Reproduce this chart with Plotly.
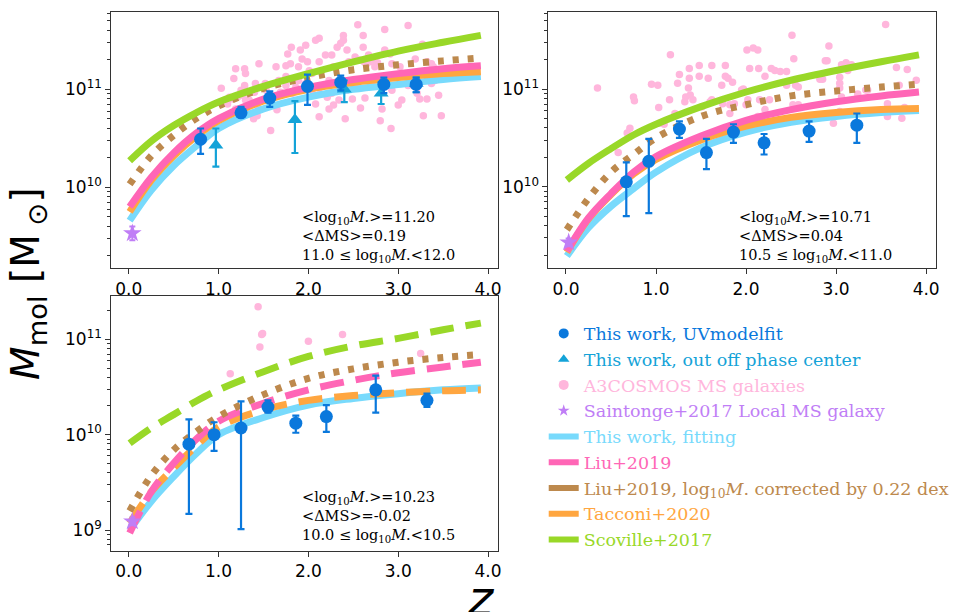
import plotly.graph_objects as go
import numpy as np

W, H = 956, 612

# ---------------- data ----------------
z_curve = [0.01, 0.25, 0.5, 0.75, 1.0, 1.5, 2.0, 2.5, 3.0, 3.5, 3.92]

# log10 Mmol for model curves, per panel
fit_p1 = [9.66, 9.97, 10.22, 10.42, 10.60, 10.80, 10.92, 11.00, 11.05, 11.10, 11.13]
liu_p1 = [9.80, 10.10, 10.35, 10.55, 10.70, 10.90, 11.02, 11.10, 11.16, 11.21, 11.24]
liuc_p1 = [10.03, 10.32, 10.53, 10.70, 10.83, 11.01, 11.12, 11.20, 11.25, 11.29, 11.32]
tac_p1 = [9.75, 10.07, 10.32, 10.52, 10.68, 10.88, 11.00, 11.07, 11.12, 11.16, 11.18]
sco_p1 = [10.27, 10.47, 10.63, 10.76, 10.87, 11.03, 11.16, 11.28, 11.39, 11.48, 11.55]

fit_p2 = [9.29, 9.58, 9.80, 9.98, 10.15, 10.40, 10.56, 10.66, 10.72, 10.76, 10.78]
liu_p2 = [9.34, 9.68, 9.93, 10.15, 10.31, 10.52, 10.68, 10.79, 10.87, 10.93, 10.97]
liuc_p2 = [9.56, 9.88, 10.15, 10.33, 10.50, 10.72, 10.84, 10.93, 10.98, 11.02, 11.05]
tac_p2 = [9.33, 9.67, 9.92, 10.13, 10.28, 10.48, 10.62, 10.71, 10.76, 10.79, 10.80]
sco_p2 = [10.07, 10.24, 10.39, 10.53, 10.64, 10.82, 10.97, 11.09, 11.19, 11.28, 11.35]

fit_p3 = [9.00, 9.30, 9.56, 9.80, 10.00, 10.18, 10.31, 10.38, 10.43, 10.47, 10.49]
liu_p3 = [8.97, 9.40, 9.70, 9.95, 10.14, 10.33, 10.47, 10.57, 10.65, 10.71, 10.76]
liuc_p3 = [9.20, 9.57, 9.84, 10.03, 10.19, 10.42, 10.59, 10.69, 10.76, 10.81, 10.84]
tac_p3 = [9.07, 9.40, 9.65, 9.88, 10.08, 10.26, 10.36, 10.41, 10.44, 10.46, 10.47]
sco_p3 = [9.91, 10.07, 10.21, 10.35, 10.47, 10.66, 10.82, 10.93, 11.01, 11.10, 11.17]

# This work, UVmodelfit (z, log M, upper, lower)
uv_z_p1 = [0.80, 1.25, 1.57, 1.99, 2.36, 2.84, 3.20]
uv_m_p1 = [10.49, 10.76, 10.91, 11.03, 11.07, 11.05, 11.05]
uv_hi_p1 = [10.60, 10.82, 10.98, 11.15, 11.14, 11.12, 11.12]
uv_lo_p1 = [10.34, 10.72, 10.82, 10.84, 10.99, 10.96, 10.97]

uv_z_p2 = [0.67, 0.92, 1.26, 1.56, 1.86, 2.20, 2.70, 3.23]
uv_m_p2 = [10.05, 10.26, 10.59, 10.35, 10.56, 10.45, 10.57, 10.63]
uv_hi_p2 = [10.25, 10.49, 10.67, 10.49, 10.64, 10.54, 10.67, 10.75]
uv_lo_p2 = [9.70, 9.73, 10.50, 10.18, 10.45, 10.33, 10.46, 10.45]

uv_z_p3 = [0.67, 0.95, 1.25, 1.55, 1.86, 2.20, 2.75, 3.32]
uv_m_p3 = [9.90, 10.00, 10.07, 10.29, 10.12, 10.19, 10.47, 10.36]
uv_hi_p3 = [10.16, 10.13, 10.35, 10.36, 10.20, 10.31, 10.62, 10.43]
uv_lo_p3 = [9.17, 9.83, 9.01, 10.23, 10.02, 10.03, 10.23, 10.29]

# This work, out off phase center (panel 1 only)
off_z = [0.97, 1.85, 2.40, 2.81, 3.20]
off_m = [10.43, 10.69, 11.00, 10.96, 11.06]
off_hi = [10.60, 10.88, 11.09, 11.07, 11.12]
off_lo = [10.21, 10.35, 10.87, 10.85, 10.97]

# Saintonge+2017 local MS galaxy
st_z = [0.04, 0.03, 0.04]
st_m = [9.53, 9.43, 9.09]
st_hi = [9.60, 9.47, 9.13]
st_lo = [9.46, 9.39, 9.05]

# A3COSMOS MS galaxies
a3_z_p1 = [2.55, 3.11, 2.85, 2.61, 2.39, 2.39, 2.36, 2.12, 2.08, 1.97, 1.91, 1.81, 1.77, 1.80, 1.75,
           1.89, 1.99, 1.93, 2.01, 2.04, 2.12, 2.19, 2.26, 2.28, 2.32, 2.43, 2.45, 2.52, 2.57, 2.61,
           2.67, 2.65, 2.71, 2.77, 2.74, 2.85, 2.91, 2.93, 3.02, 2.97, 2.93, 3.19, 3.27, 3.32, 3.39,
           3.41, 3.37, 3.24, 3.21, 3.24, 3.28, 3.48, 3.45, 3.11, 3.04, 3.00, 2.92, 2.80, 2.82, 2.63,
           2.58, 2.41, 2.49, 2.43, 2.28, 2.23, 2.26, 2.12, 2.08, 2.04, 1.97, 1.89, 1.86, 1.82, 1.75,
           1.75, 1.67, 1.69, 1.65, 1.58, 1.53, 1.52, 1.45, 1.41, 1.40, 1.39, 1.43, 1.45, 1.34, 1.32,
           1.30, 1.29, 1.25, 1.21, 1.27, 1.30, 1.29, 1.19, 1.17, 1.16, 1.12, 1.10, 1.19, 1.03, 1.64,
           2.21, 2.34, 2.12, 2.23, 2.62, 3.37, 3.32, 2.71, 2.52]
a3_m_p1 = [11.66, 11.65, 11.61, 11.55, 11.55, 11.50, 11.47, 11.52, 11.50, 11.45, 11.40, 11.43, 11.36, 11.26, 11.24,
           11.23, 11.28, 11.31, 11.19, 11.16, 11.28, 11.35, 11.35, 11.23, 11.43, 11.40, 11.28, 11.33, 11.30, 11.43,
           11.35, 11.26, 11.28, 11.27, 11.23, 11.40, 11.36, 11.26, 11.23, 11.13, 10.99, 11.31, 11.46, 11.28, 11.23,
           11.09, 11.06, 11.06, 10.96, 10.90, 10.73, 10.73, 10.94, 11.04, 10.89, 10.84, 10.60, 10.68, 10.80, 10.91,
           10.81, 10.70, 10.90, 10.99, 10.84, 10.80, 10.96, 10.72, 10.85, 10.99, 11.06, 11.09, 11.02, 10.96, 11.04,
           11.13, 11.09, 10.97, 10.79, 10.58, 10.99, 11.06, 11.26, 11.06, 10.97, 10.70, 10.73, 10.80, 10.89, 10.75,
           10.89, 11.04, 10.99, 10.92, 10.94, 11.16, 11.21, 11.21, 11.11, 10.90, 10.92, 10.85, 10.80, 11.01, 11.23,
           10.92, 10.89, 11.01, 11.09, 11.28, 11.26, 10.90, 11.04, 11.04]

a3_z_p2 = [3.55, 2.51, 1.16, 2.92, 2.01, 2.08, 2.13, 2.53, 2.90, 3.06, 3.11, 3.17, 3.07, 3.13, 3.67,
           3.79, 0.35, 0.95, 1.02, 1.26, 1.24, 1.37, 1.37, 1.48, 1.48, 1.58, 1.62, 1.77, 1.77, 1.80,
           1.73, 1.85, 2.04, 2.14, 2.21, 2.28, 2.32, 2.38, 2.45, 2.45, 2.55, 2.58, 2.82, 2.85, 2.88,
           3.04, 3.04, 3.04, 3.33, 3.24, 3.89, 3.70, 3.57, 3.76, 3.57, 3.73, 3.04, 2.87, 2.97, 1.36,
           1.33, 1.38, 1.41, 1.32, 1.15, 1.03, 1.51, 1.60, 1.62, 1.74, 1.82, 1.87, 2.00, 2.02, 2.15,
           2.21, 2.26, 2.13, 1.99, 1.95, 1.97, 1.82, 1.21, 1.04, 1.09, 0.71, 0.68, 0.75, 0.76, 0.58,
           2.52, 2.58, 3.06, 3.35]
a3_m_p2 = [11.66, 11.55, 11.35, 11.44, 11.40, 11.42, 11.40, 11.31, 11.29, 11.25, 11.27, 11.25, 11.23, 11.19, 11.22,
           11.20, 11.01, 11.05, 11.04, 11.15, 11.06, 11.21, 11.11, 11.24, 11.13, 11.11, 11.24, 11.24, 11.13, 11.11,
           11.04, 11.07, 11.21, 11.21, 11.13, 11.21, 11.19, 11.18, 11.18, 11.04, 11.04, 11.02, 11.10, 11.10, 11.29,
           11.12, 11.06, 11.01, 10.99, 10.95, 11.09, 11.04, 10.85, 10.81, 10.72, 10.70, 10.77, 10.72, 10.65, 11.01,
           10.92, 10.94, 10.89, 10.87, 10.89, 10.81, 10.82, 10.87, 10.89, 10.85, 10.84, 10.85, 10.84, 10.89, 10.89,
           10.79, 10.89, 10.72, 10.60, 10.99, 11.00, 10.75, 10.75, 10.65, 10.64, 10.60, 10.55, 10.92, 10.88, 10.35,
           10.84, 10.84, 10.92, 10.99]

a3_z_p3 = [1.44, 1.48, 1.49, 1.46, 1.13, 2.00, 2.38, 3.25]
a3_m_p3 = [11.34, 11.05, 11.06, 10.92, 10.64, 10.98, 11.05, 10.85]

x_ticks = [0, 1, 2, 3, 4]
x_ticklabels = ["0.0", "1.0", "2.0", "3.0", "4.0"]

panel_text = [
    ("11.20", "0.19", "11.0", "12.0"),
    ("10.71", "0.04", "10.5", "11.0"),
    ("10.23", "-0.02", "10.0", "10.5"),
]

legend_labels = [
    "This work, UVmodelfit",
    "This work, out off phase center",
    "A3COSMOS MS galaxies",
    "Saintonge+2017 Local MS galaxy",
    "This work, fitting",
    "Liu+2019",
    "Liu+2019, log<sub>10</sub><i>M</i>. corrected by 0.22 dex",
    "Tacconi+2020",
    "Scoville+2017",
]

# ---------------- style ----------------
C_UV = "#0a78dc"
C_OFF = "#14a3d8"
C_A3 = "#ffb6dc"
C_ST = "#c07ef6"
C_FIT = "#78dafc"
C_LIU = "#ff66b6"
C_LIUC = "#bd894d"
C_TAC = "#ffa640"
C_SCO = "#99d828"

TICKFONT = dict(family="DejaVu Sans", size=17, color="black")
SERIF = "DejaVu Serif"


def lin(v):
    return [10 ** x for x in v]


def px_x(p):
    return p / W


def px_y(p):
    return 1 - p / H


fig = go.Figure()

panels = [
    dict(ax="", fit=fit_p1, liu=liu_p1, liuc=liuc_p1, tac=tac_p1, sco=sco_p1,
         uz=uv_z_p1, um=uv_m_p1, uh=uv_hi_p1, ul=uv_lo_p1, az=a3_z_p1, am=a3_m_p1, dash="solid"),
    dict(ax="2", fit=fit_p2, liu=liu_p2, liuc=liuc_p2, tac=tac_p2, sco=sco_p2,
         uz=uv_z_p2, um=uv_m_p2, uh=uv_hi_p2, ul=uv_lo_p2, az=a3_z_p2, am=a3_m_p2, dash="solid"),
    dict(ax="3", fit=fit_p3, liu=liu_p3, liuc=liuc_p3, tac=tac_p3, sco=sco_p3,
         uz=uv_z_p3, um=uv_m_p3, uh=uv_hi_p3, ul=uv_lo_p3, az=a3_z_p3, am=a3_m_p3, dash="24px,12px"),
]

LW = 7
for i, p in enumerate(panels):
    xa = "x" + p["ax"]
    ya = "y" + p["ax"]
    common = dict(xaxis=xa, yaxis=ya, showlegend=False, hoverinfo="skip")
    # pink scatter
    fig.add_trace(go.Scatter(x=p["az"], y=lin(p["am"]), mode="markers",
                             marker=dict(color=C_A3, size=7.5), **common))
    # curves
    fig.add_trace(go.Scatter(x=z_curve, y=lin(p["fit"]), mode="lines",
                             line=dict(color=C_FIT, width=LW, shape="spline"), **common))
    fig.add_trace(go.Scatter(x=z_curve, y=lin(p["tac"]), mode="lines",
                             line=dict(color=C_TAC, width=LW, shape="spline", dash=p["dash"]), **common))
    fig.add_trace(go.Scatter(x=z_curve, y=lin(p["liu"]), mode="lines",
                             line=dict(color=C_LIU, width=LW, shape="spline", dash=p["dash"]), **common))
    fig.add_trace(go.Scatter(x=z_curve, y=lin(p["liuc"]), mode="lines",
                             line=dict(color=C_LIUC, width=LW, shape="spline", dash="6px,9px"), **common))
    fig.add_trace(go.Scatter(x=z_curve, y=lin(p["sco"]), mode="lines",
                             line=dict(color=C_SCO, width=LW, shape="spline", dash=p["dash"]), **common))
    # star
    fig.add_trace(go.Scatter(
        x=[st_z[i]], y=[10 ** st_m[i]], mode="markers",
        marker=dict(color=C_ST, size=14, symbol="star", line=dict(width=0)),
        error_y=dict(type="data", symmetric=False,
                     array=[10 ** st_hi[i] - 10 ** st_m[i]],
                     arrayminus=[10 ** st_m[i] - 10 ** st_lo[i]],
                     color=C_ST, thickness=2, width=3),
        **common))
    # off-center triangles
    if i == 0:
        fig.add_trace(go.Scatter(
            x=off_z, y=lin(off_m), mode="markers",
            marker=dict(color=C_OFF, size=13, symbol="triangle-up"),
            error_y=dict(type="data", symmetric=False,
                         array=[10 ** h - 10 ** m for h, m in zip(off_hi, off_m)],
                         arrayminus=[10 ** m - 10 ** l for l, m in zip(off_lo, off_m)],
                         color=C_OFF, thickness=2.2, width=3.5),
            **common))
    # UV model fit circles
    fig.add_trace(go.Scatter(
        x=p["uz"], y=lin(p["um"]), mode="markers",
        marker=dict(color=C_UV, size=13),
        error_y=dict(type="data", symmetric=False,
                     array=[10 ** h - 10 ** m for h, m in zip(p["uh"], p["um"])],
                     arrayminus=[10 ** m - 10 ** l for l, m in zip(p["ul"], p["um"])],
                     color=C_UV, thickness=2.2, width=3.5),
        **common))

# legend-only entries
leg_specs = [
    dict(mode="markers", marker=dict(color=C_UV, size=10, symbol="circle"), c=C_UV),
    dict(mode="markers", marker=dict(color=C_OFF, size=10, symbol="triangle-up"), c=C_OFF),
    dict(mode="markers", marker=dict(color=C_A3, size=10, symbol="circle"), c=C_A3),
    dict(mode="markers", marker=dict(color=C_ST, size=9, symbol="star"), c=C_ST),
    dict(mode="lines", line=dict(color=C_FIT, width=6), c=C_FIT),
    dict(mode="lines", line=dict(color=C_LIU, width=6), c=C_LIU),
    dict(mode="lines", line=dict(color=C_LIUC, width=6), c=C_LIUC),
    dict(mode="lines", line=dict(color=C_TAC, width=6), c=C_TAC),
    dict(mode="lines", line=dict(color=C_SCO, width=6), c=C_SCO),
]
for k, (lab, spec) in enumerate(zip(legend_labels, leg_specs)):
    c = spec.pop("c")
    fig.add_trace(go.Scatter(x=[None], y=[None], xaxis="x3", yaxis="y3",
                             name=f'<span style="color:{c}">{lab}</span>',
                             legendgroup=f"g{k}", showlegend=True, **spec))

# ---------------- axes ----------------
def minor_vals(lo, hi):
    vals = []
    for e in range(lo, hi):
        for m in range(2, 10):
            vals.append(m * 10 ** e)
    return vals

xr = [-0.195, 4.11]
axis_common = dict(showline=True, linecolor="#333333", linewidth=1, mirror=True,
                   ticks="outside", ticklen=5, tickwidth=1, tickcolor="#333333",
                   showgrid=False, zeroline=False, tickfont=TICKFONT)

x_dom_l = [111.7 / W, 500 / W]
x_dom_r = [550.7 / W, 940 / W]
y_dom_t = [px_y(268.3), px_y(11.7)]
y_dom_b = [px_y(551), px_y(296)]

for name, dom, anchor in [("xaxis", x_dom_l, "y"), ("xaxis2", x_dom_r, "y2"), ("xaxis3", x_dom_l, "y3")]:
    fig.layout[name] = dict(domain=dom, anchor=anchor, range=xr, tickvals=x_ticks,
                            ticktext=x_ticklabels, **axis_common)

ytv = [1e9, 1e10, 1e11]
ytt = ["10<sup>9</sup>", "10<sup>10</sup>", "10<sup>11</sup>"]
for name, dom, anchor, rng in [("yaxis", y_dom_t, "x", [9.173, 11.792]),
                               ("yaxis2", y_dom_t, "x2", [9.165, 11.792]),
                               ("yaxis3", y_dom_b, "x3", [8.78, 11.454])]:
    fig.layout[name] = dict(domain=dom, anchor=anchor, type="log", range=rng,
                            tickvals=ytv, ticktext=ytt,
                            minor=dict(tickvals=minor_vals(8, 12), ticks="outside", ticklen=3,
                                       tickcolor="#333333", showgrid=False),
                            **axis_common)

# ---------------- annotations ----------------
ann = []
ann_pos = [(301, 237), (740, 237), (301, 517)]
for (mean_m, dms, lo, hi), (ax_px, ay_px) in zip(panel_text, ann_pos):
    txt = (f"&lt;log<sub>10</sub><i>M</i>.&gt;={mean_m}<br>"
           f"&lt;ΔMS&gt;={dms}<br>"
           f"{lo} ≤ log<sub>10</sub><i>M</i>.&lt;{hi}")
    ann.append(dict(x=px_x(ax_px), y=px_y(ay_px), xref="paper", yref="paper",
                    xanchor="left", yanchor="middle", align="left", showarrow=False,
                    text=txt, font=dict(family=SERIF, size=14.5, color="black")))

ann.append(dict(x=px_x(28), y=px_y(283), xref="paper", yref="paper", showarrow=False,
                textangle=-90, xanchor="center", yanchor="middle",
                text="<i>M</i><sub>mol</sub> [M<sub> ⊙</sub>]",
                font=dict(family="DejaVu Sans", size=39, color="black")))
ann.append(dict(x=px_x(483), y=px_y(598), xref="paper", yref="paper", showarrow=False,
                xanchor="center", yanchor="middle", text="<i>z</i>",
                font=dict(family="DejaVu Sans", size=48, color="black")))

fig.update_layout(
    width=W, height=H, margin=dict(l=0, r=0, t=0, b=0),
    paper_bgcolor="white", plot_bgcolor="white",
    annotations=ann,
    showlegend=True,
    legend=dict(x=px_x(546), y=px_y(315.5), xanchor="left", yanchor="top",
                font=dict(family=SERIF, size=17.5), bgcolor="rgba(0,0,0,0)",
                tracegroupgap=5, traceorder="normal", itemwidth=30),
)

fig.write_html("out.html", config={"displayModeBar": False},
               post_script="document.body.style.margin='0px';document.body.style.overflow='hidden';")
